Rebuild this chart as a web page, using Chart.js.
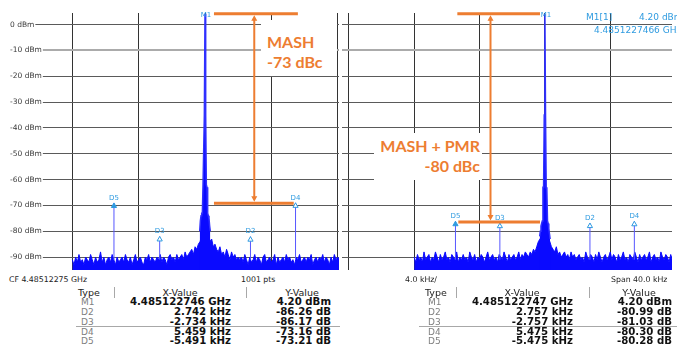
<!DOCTYPE html>
<html>
<head>
<meta charset="utf-8">
<script src="https://cdn.jsdelivr.net/npm/chart.js@4.4.1/dist/chart.umd.min.js"></script>
<style>
  body { margin: 0; width: 677px; height: 349px; background: #fff; position: relative; overflow: hidden;
         font-family: "DejaVu Sans", sans-serif; }
  canvas { position: absolute; top: 0; }
  .t { position: absolute; white-space: nowrap; line-height: 1; }
  .box { position: absolute; background: #fff; }
  .note { position: absolute; white-space: nowrap; font: bold 16px Lato, sans-serif; color: #ed7d31; line-height: 16px; }
  .rule { position: absolute; background: #a8a8a8; }
</style>
</head>
<body>
<canvas id="leftChart" width="344" height="275" style="left:0"></canvas>
<canvas id="rightChart" width="340" height="275" style="left:337px"></canvas>

<div class="box" style="left:261px;top:20px;width:76px;height:56px"></div>
<div class="note" style="left:267px;top:34px">MASH</div>
<div class="note" style="left:267px;top:54px">-73 dBc</div>

<div class="box" style="left:374px;top:133px;width:108px;height:47px"></div>
<div class="note" style="right:197px;top:138px">MASH + PMR</div>
<div class="note" style="right:197px;top:158px">-80 dBc</div>

<div id="texts"></div>

<script>
// ===============================
// Data
// ===============================
const m1Dbm = 4.20;
const yTickValues = [0, -10, -20, -30, -40, -50, -60, -70, -80, -90];
const xGridKHz = [-12, -8, -4, 0, 4, 8];

// noise trace, one value every 0.1 kHz starting at -8 kHz
const noiseStartKHz = -8.0;
const noiseStepKHz = 0.1;
const leftNoiseDbm = [
  -91, -93, -90, -92, -89, -92, -91, -93, -90, -91,
  -92, -89, -91, -93, -90, -92, -91, -88, -92, -90,
  -93, -91, -90, -92, -89, -91, -93, -90, -92, -91,
  -90, -92, -89, -91, -92, -90, -93, -91, -89, -92,
  -91, -90, -92, -93, -90, -91, -89, -92, -90, -91,
  -92, -90, -91, -89, -92, -90, -91, -93, -90, -89,
  -91, -90, -92, -89, -91, -90, -89, -91, -88, -90,
  -89, -88, -87, -89, -86, -87, -85, -84, -82, -79,
  -75,
  -78, -81, -84, -83, -86, -85, -87, -88, -86, -89,
  -88, -90, -87, -89, -91, -88, -90, -89, -91, -90,
  -91, -90, -92, -89, -91, -93, -90, -92, -91, -89,
  -92, -90, -91, -93, -90, -89, -92, -91, -90, -92,
  -91, -89, -93, -90, -92, -91, -90, -92, -89, -91,
  -90, -92, -91, -93, -90, -91, -89, -92, -91, -90,
  -92, -90, -91, -89, -93, -91, -90, -92, -90, -91,
  -89, -92, -90, -91, -93, -90, -92, -89, -91, -90, -91
];
const rightNoiseDbm = [
  -90, -92, -89, -91, -90, -92, -88, -91, -90, -89,
  -92, -90, -91, -88, -90, -92, -89, -91, -90, -88,
  -91, -90, -92, -89, -90, -91, -88, -92, -90, -91,
  -89, -91, -90, -92, -88, -90, -91, -89, -92, -90,
  -91, -89, -90, -92, -90, -88, -91, -90, -89, -91,
  -90, -92, -89, -90, -91, -88, -90, -92, -89, -91,
  -90, -89, -91, -90, -88, -91, -89, -90, -88, -89,
  -90, -88, -89, -87, -88, -86, -84, -83, -82, -80,
  -76,
  -80, -82, -84, -86, -87, -88, -86, -89, -88, -90,
  -89, -88, -90, -89, -91, -88, -90, -89, -91, -90,
  -89, -91, -90, -92, -88, -90, -91, -89, -90, -92,
  -89, -91, -88, -90, -92, -90, -89, -91, -90, -88,
  -91, -89, -90, -92, -89, -91, -90, -88, -91, -90,
  -92, -89, -90, -91, -88, -90, -92, -89, -91, -90,
  -89, -91, -90, -88, -92, -90, -89, -91, -90, -92,
  -88, -90, -91, -89, -90, -92, -89, -91
];

// carrier close-in bins (kHz offset from centre)
const carrierKHz = [-0.32, -0.28, -0.24, -0.2, -0.16, -0.12, -0.08, -0.04, 0, 0.04, 0.08, 0.12, 0.16, 0.2, 0.24, 0.28, 0.32];
const leftCarrierDbm = [-80, -76, -74, -73, -73, -62, -62, -35, 4.2, -35, -62, -63, -73, -74, -75, -78, -80];
const rightCarrierDbm = [-82, -80, -78, -77, -76, -63, -63, -35, 4.2, -36, -63, -64, -76, -77, -79, -81, -83];

// marker table
const markerTypes = ["M1", "D2", "D3", "D4", "D5"];
const leftM1Freq = "4.485122746 GHz";
const rightM1Freq = "4.485122747 GHz";
const leftDeltaKHz = [2.742, -2.734, 5.459, -5.491];
const leftDeltaDb = [-86.26, -86.17, -73.16, -73.21];
const rightDeltaKHz = [2.757, -2.757, 5.475, -5.475];
const rightDeltaDb = [-80.99, -81.03, -80.30, -80.28];

const spurFloorDbm = -91;
const traceBlue = "#0a0aff";
const markerBlue = "#2f9be0";
const orange = "#ed7d31";

// ===============================
// Overlay drawing (marker names, orange arrows)
// ===============================
function annotationPlugin(cfg) {
  return {
    id: "spectrumNotes",
    afterDatasetsDraw(chart) {
      const xs = chart.scales.x;
      const ys = chart.scales.y;
      const c = chart.ctx;
      c.save();

      // marker names
      c.fillStyle = markerBlue;
      c.font = "7px 'DejaVu Sans'";
      c.textAlign = "center";
      c.textBaseline = "middle";
      c.fillText("M1", xs.getPixelForValue(0) + 1, 15);
      cfg.deltaKHz.forEach((k, i) => {
        const px = xs.getPixelForValue(k);
        const py = ys.getPixelForValue(m1Dbm + cfg.deltaDb[i]);
        c.fillText(markerTypes[i + 1], px, py - 5);
      });

      // orange arrow annotation
      const a = cfg.arrow;
      const yTop = ys.getPixelForValue(a.topDbm);
      const yBot = ys.getPixelForValue(a.bottomDbm);
      const xa = xs.getPixelForValue(a.atKHz);
      c.strokeStyle = orange;
      c.fillStyle = orange;
      c.lineWidth = 3;
      c.beginPath();
      c.moveTo(xs.getPixelForValue(a.topFrom), yTop);
      c.lineTo(xs.getPixelForValue(a.topTo), yTop);
      c.moveTo(xs.getPixelForValue(a.botFrom), yBot);
      c.lineTo(xs.getPixelForValue(a.botTo), yBot);
      c.stroke();
      c.lineWidth = 2;
      c.beginPath();
      c.moveTo(xa, yTop + 5);
      c.lineTo(xa, yBot - 5);
      c.stroke();
      c.beginPath();
      c.moveTo(xa, yTop + 1.5);
      c.lineTo(xa - 3, yTop + 7);
      c.lineTo(xa + 3, yTop + 7);
      c.closePath();
      c.moveTo(xa, yBot - 1.5);
      c.lineTo(xa - 3, yBot - 7);
      c.lineTo(xa + 3, yBot - 7);
      c.closePath();
      c.fill();
      c.restore();
    }
  };
}

function makePanel(canvasId, cfg) {
  const noisePoints = cfg.noise.map((v, i) => ({ x: noiseStartKHz + i * noiseStepKHz, y: v }));
  const carrierPoints = carrierKHz.map((k, i) => ({ x: k, y: cfg.carrier[i] }));
  const spurPoints = [];
  cfg.deltaKHz.forEach((k, i) => {
    spurPoints.push({ x: k, y: spurFloorDbm }, { x: k, y: m1Dbm + cfg.deltaDb[i] }, { x: k, y: null });
  });
  const markerPoints = cfg.deltaKHz.map((k, i) => ({ x: k, y: m1Dbm + cfg.deltaDb[i] - 1.2 }));

  new Chart(document.getElementById(canvasId), {
    type: "line",
    data: {
      datasets: [
        {
          data: markerPoints,
          showLine: false,
          pointStyle: "triangle",
          pointRadius: 3,
          borderWidth: 1,
          pointBorderColor: markerBlue,
          pointBackgroundColor: ["#fff", "#fff", "#fff", markerBlue]
        },
        { data: spurPoints, borderColor: "#5656ff", borderWidth: 1, pointRadius: 0, spanGaps: false },
        { data: carrierPoints, borderColor: "#3030ff", backgroundColor: traceBlue, borderWidth: 1.5, pointRadius: 0, fill: "start" },
        { data: noisePoints, borderColor: traceBlue, backgroundColor: traceBlue, borderWidth: 1, pointRadius: 0, fill: "start" }
      ]
    },
    options: {
      responsive: false,
      animation: false,
      layout: { padding: { top: 13, left: 0, right: 0, bottom: 0 } },
      elements: { line: { tension: 0 } },
      plugins: { legend: { display: false }, tooltip: { enabled: false } },
      scales: {
        x: {
          type: "linear",
          min: cfg.xMin,
          max: cfg.xMax,
          afterBuildTicks: s => {
            s.ticks = xGridKHz.filter(v => v >= s.min && v <= s.max).map(v => ({ value: v }));
          },
          afterFit: s => {
            s.height = 0;
            s.paddingLeft = 0;
            s.paddingRight = 0;
          },
          ticks: { display: false },
          grid: { color: "#333", drawTicks: false },
          border: { display: false }
        },
        y: {
          min: -95,
          max: 4.5,
          afterBuildTicks: s => {
            s.ticks = yTickValues.map(v => ({ value: v }));
          },
          afterFit: s => {
            s.width = cfg.axisWidth;
            s.paddingTop = 0;
            s.paddingBottom = 0;
          },
          ticks: {
            display: cfg.showLabels,
            mirror: true,
            padding: 0,
            color: "#3a3a3a",
            font: { family: "DejaVu Sans", size: 7.5 },
            showLabelBackdrop: true,
            backdropColor: "#fff",
            backdropPadding: { left: 0, right: 1, top: 0, bottom: 0 },
            callback: v => v + " dBm"
          },
          grid: {
            drawTicks: false,
            color: ctx => (ctx.tick && ctx.tick.value === -10 ? "#ababab" : "#5a5a5a"),
            lineWidth: ctx => (ctx.tick && ctx.tick.value === -10 ? 2 : 1)
          },
          border: { display: false }
        }
      }
    },
    plugins: [annotationPlugin(cfg)]
  });
}

makePanel("leftChart", {
  noise: leftNoiseDbm, carrier: leftCarrierDbm,
  deltaKHz: leftDeltaKHz, deltaDb: leftDeltaDb,
  xMin: -11.76, xMax: 8.08, axisWidth: 10, showLabels: true,
  arrow: { topDbm: 4.2, bottomDbm: -69.2, topFrom: 0.54, topTo: 5.6, botFrom: 0.54, botTo: 5.35, atKHz: 2.97 }
});

makePanel("rightChart", {
  noise: rightNoiseDbm, carrier: rightCarrierDbm,
  deltaKHz: rightDeltaKHz, deltaDb: rightDeltaDb,
  xMin: -12.42, xMax: 7.78, axisWidth: 0, showLabels: false,
  arrow: { topDbm: 4.2, bottomDbm: -76.4, topFrom: -5.36, topTo: -0.3, botFrom: -5.3, botTo: -0.3, atKHz: -3.33 }
});

// ===============================
// Text below / around the plots
// ===============================
const texts = document.getElementById("texts");

function place(text, x, y, align, style) {
  const el = document.createElement("div");
  el.className = "t";
  el.textContent = text;
  el.style.cssText += style || "";
  el.style.top = y + "px";
  if (align === "right") {
    el.style.right = (677 - x) + "px";
    el.style.transform = "translateY(-50%)";
  } else if (align === "center") {
    el.style.left = x + "px";
    el.style.transform = "translate(-50%,-50%)";
  } else {
    el.style.left = x + "px";
    el.style.transform = "translateY(-50%)";
  }
  texts.appendChild(el);
}

function rule(x, y, w, h) {
  const el = document.createElement("div");
  el.className = "rule";
  el.style.left = x + "px";
  el.style.top = y + "px";
  el.style.width = w + "px";
  el.style.height = h + "px";
  texts.appendChild(el);
}

const blueText = "font-size:9px;color:" + markerBlue + ";";
place("M1[1]", 586, 17, "left", blueText);
place(m1Dbm.toFixed(2) + " dBm", 639, 17, "left", blueText);
place("4.4851227466 GHz", 594, 30, "left", blueText);

const axisText = "font-size:7.8px;color:#222;";
place("CF 4.48512275 GHz", 9, 280, "left", axisText);
place("1001 pts", 241, 280, "left", axisText);
place("4.0 kHz/", 405, 280, "left", axisText);
place("Span 40.0 kHz", 611, 280, "left", axisText);

const rowY = [302, 312, 321.5, 331.5, 341];
function markerTable(t) {
  const head = "font-size:9.5px;color:#222;";
  const typeStyle = "font-size:9px;color:#808080;";
  const valStyle = "font-size:10.2px;font-weight:bold;color:#111;";
  place("Type", t.typeX - 3, 292.5, "left", head);
  place("X-Value", t.xHeadX, 292.5, "center", head);
  place("Y-Value", t.yHeadX, 292.5, "center", head);
  rule(t.sep1, 287, 1, 11);
  rule(t.sep2, 287, 1, 11);
  rule(t.lineFrom, 326.2, t.lineTo - t.lineFrom, 1.3);

  markerTypes.forEach((name, i) => {
    place(name, t.typeX, rowY[i], "left", typeStyle);
    if (i === 0) {
      place(t.m1Freq, t.xValX, rowY[i], "right", valStyle);
      place(m1Dbm.toFixed(2) + " dBm", t.yValX, rowY[i], "right", valStyle);
    } else {
      place(t.deltaKHz[i - 1].toFixed(3) + " kHz", t.xValX, rowY[i], "right", valStyle);
      place(t.deltaDb[i - 1].toFixed(2) + " dB", t.yValX, rowY[i], "right", valStyle);
    }
  });
}

markerTable({
  typeX: 81, xHeadX: 180, yHeadX: 302, xValX: 231, yValX: 331,
  sep1: 114, sep2: 246, lineFrom: 76, lineTo: 340,
  m1Freq: leftM1Freq, deltaKHz: leftDeltaKHz, deltaDb: leftDeltaDb
});
markerTable({
  typeX: 428, xHeadX: 522, yHeadX: 639, xValX: 573, yValX: 672,
  sep1: 456, sep2: 589, lineFrom: 419, lineTo: 677,
  m1Freq: rightM1Freq, deltaKHz: rightDeltaKHz, deltaDb: rightDeltaDb
});
</script>
</body>
</html>
